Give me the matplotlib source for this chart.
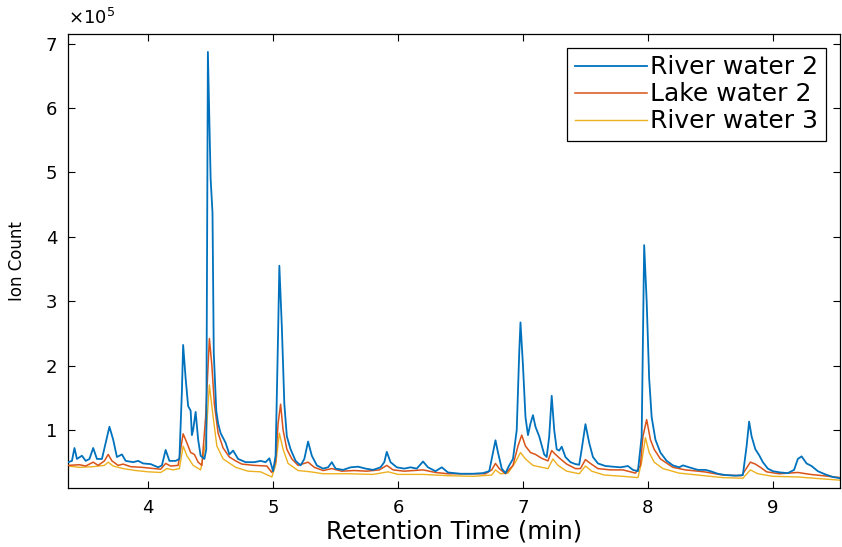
import matplotlib
matplotlib.use("Agg")
import matplotlib.pyplot as plt
import numpy as np

# retention time (min) and ion count (x 1e5)
t_river2 = [3.36, 3.39, 3.41, 3.43, 3.47, 3.50, 3.53, 3.56, 3.59, 3.63, 3.66, 3.69, 3.72, 3.75,
            3.79, 3.82, 3.88, 3.92, 3.96, 4.02, 4.08, 4.11, 4.14, 4.17, 4.22, 4.25, 4.27, 4.28,
            4.30, 4.32, 4.34, 4.35, 4.36, 4.38, 4.40, 4.42, 4.45, 4.465, 4.478, 4.50, 4.515,
            4.525, 4.545, 4.56, 4.58, 4.62, 4.65, 4.68, 4.72, 4.78, 4.85, 4.90, 4.94, 4.97,
            5.00, 5.02, 5.04, 5.05, 5.07, 5.09, 5.11, 5.14, 5.18, 5.22, 5.25, 5.28, 5.31, 5.35,
            5.40, 5.44, 5.47, 5.50, 5.56, 5.62, 5.68, 5.74, 5.80, 5.86, 5.89, 5.91, 5.94, 5.99,
            6.05, 6.10, 6.15, 6.20, 6.24, 6.30, 6.35, 6.40, 6.50, 6.60, 6.68, 6.73, 6.76, 6.78,
            6.80, 6.83, 6.86, 6.89, 6.92, 6.95, 6.97, 6.98, 7.00, 7.02, 7.04, 7.06, 7.08, 7.10,
            7.13, 7.17, 7.19, 7.21, 7.23, 7.25, 7.27, 7.29, 7.31, 7.34, 7.38, 7.42, 7.45, 7.47,
            7.50, 7.53, 7.56, 7.60, 7.66, 7.72, 7.78, 7.84, 7.88, 7.92, 7.95, 7.97, 7.99, 8.01,
            8.03, 8.06, 8.10, 8.15, 8.20, 8.25, 8.28, 8.33, 8.40, 8.46, 8.50, 8.56, 8.62, 8.70,
            8.76, 8.79, 8.81, 8.83, 8.86, 8.89, 8.92, 8.96, 9.00, 9.06, 9.12, 9.17, 9.20, 9.23,
            9.27, 9.31, 9.36, 9.42, 9.48, 9.54]
river2 = [0.50, 0.52, 0.72, 0.55, 0.60, 0.52, 0.55, 0.72, 0.55, 0.55, 0.80, 1.05, 0.85, 0.58,
          0.62, 0.52, 0.50, 0.52, 0.48, 0.47, 0.42, 0.45, 0.69, 0.52, 0.52, 0.55, 1.60, 2.32,
          1.80, 1.37, 1.30, 0.92, 1.00, 1.28, 0.85, 0.60, 0.55, 0.70, 6.87, 4.90, 4.37,
          2.20, 1.30, 1.10, 0.95, 0.80, 0.62, 0.68, 0.55, 0.50, 0.50, 0.52, 0.50, 0.56,
          0.36, 0.60, 2.50, 3.55, 2.60, 1.40, 0.90, 0.70, 0.52, 0.45, 0.55, 0.82, 0.60, 0.45,
          0.40, 0.42, 0.50, 0.40, 0.38, 0.42, 0.43, 0.40, 0.38, 0.42, 0.50, 0.66, 0.50, 0.42,
          0.40, 0.42, 0.40, 0.51, 0.42, 0.36, 0.42, 0.34, 0.32, 0.32, 0.33, 0.36, 0.65, 0.84,
          0.65, 0.40, 0.33, 0.45, 0.55, 1.00, 2.20, 2.67, 2.00, 1.20, 0.92, 1.10, 1.23, 1.05,
          0.90, 0.62, 0.58, 0.90, 1.53, 1.00, 0.70, 0.68, 0.74, 0.58, 0.50, 0.47, 0.46, 0.70,
          1.09, 0.80, 0.58, 0.48, 0.44, 0.43, 0.42, 0.44, 0.38, 0.36, 0.90, 3.87, 3.00, 1.80,
          1.20, 0.85, 0.65, 0.52, 0.45, 0.42, 0.45, 0.42, 0.38, 0.38, 0.36, 0.32, 0.30, 0.29,
          0.30, 0.75, 1.13, 0.90, 0.70, 0.61, 0.50, 0.40, 0.36, 0.34, 0.33, 0.38, 0.55, 0.59,
          0.48, 0.44, 0.36, 0.31, 0.27, 0.25]

t_lake2 = [3.36, 3.45, 3.50, 3.56, 3.60, 3.65, 3.68, 3.71, 3.76, 3.80, 3.86, 3.95, 4.05, 4.10,
           4.14, 4.18, 4.24, 4.26, 4.28, 4.31, 4.34, 4.37, 4.40, 4.43, 4.46, 4.49, 4.51, 4.53,
           4.56, 4.60, 4.65, 4.70, 4.75, 4.85, 4.95, 4.99, 5.02, 5.04, 5.06, 5.08, 5.11, 5.15,
           5.20, 5.28, 5.33, 5.40, 5.47, 5.55, 5.65, 5.75, 5.85, 5.91, 5.96, 6.05, 6.20, 6.30,
           6.40, 6.55, 6.70, 6.75, 6.78, 6.81, 6.86, 6.92, 6.96, 6.99, 7.02, 7.06, 7.10, 7.15,
           7.20, 7.23, 7.26, 7.30, 7.35, 7.42, 7.46, 7.50, 7.54, 7.60, 7.70, 7.80, 7.90, 7.94,
           7.96, 7.99, 8.02, 8.05, 8.10, 8.20, 8.30, 8.45, 8.60, 8.75, 8.78, 8.82, 8.86, 8.90,
           8.95, 9.05, 9.20, 9.30, 9.40, 9.54]
lake2 = [0.45, 0.46, 0.44, 0.50, 0.45, 0.52, 0.62, 0.52, 0.45, 0.47, 0.43, 0.42, 0.40, 0.39,
         0.48, 0.44, 0.45, 0.70, 0.94, 0.80, 0.65, 0.62, 0.50, 0.45, 1.20, 2.42, 2.00, 1.40,
         0.95, 0.72, 0.58, 0.52, 0.47, 0.45, 0.44, 0.34, 0.50, 1.10, 1.40, 1.00, 0.70, 0.55,
         0.45, 0.50, 0.42, 0.37, 0.40, 0.36, 0.37, 0.36, 0.38, 0.45, 0.38, 0.36, 0.38, 0.34,
         0.32, 0.32, 0.32, 0.38, 0.48, 0.40, 0.32, 0.45, 0.75, 0.92, 0.75, 0.65, 0.62, 0.56,
         0.52, 0.68, 0.62, 0.55, 0.47, 0.40, 0.40, 0.54, 0.48, 0.40, 0.38, 0.38, 0.33, 0.45,
         0.90, 1.16, 0.85, 0.70, 0.55, 0.42, 0.38, 0.35, 0.30, 0.29, 0.38, 0.50, 0.47, 0.42,
         0.35, 0.32, 0.34, 0.31, 0.29, 0.26]

t_river3 = [3.36, 3.45, 3.56, 3.65, 3.68, 3.72, 3.80, 3.90, 4.00, 4.10, 4.15, 4.20, 4.25, 4.28,
            4.31, 4.36, 4.42, 4.46, 4.49, 4.52, 4.55, 4.60, 4.70, 4.80, 4.90, 4.99, 5.02, 5.05,
            5.08, 5.12, 5.20, 5.30, 5.40, 5.60, 5.80, 5.92, 6.00, 6.20, 6.40, 6.60, 6.75, 6.78,
            6.82, 6.88, 6.94, 6.98, 7.02, 7.08, 7.15, 7.20, 7.24, 7.28, 7.35, 7.45, 7.50, 7.55,
            7.65, 7.80, 7.92, 7.95, 7.98, 8.01, 8.05, 8.12, 8.25, 8.40, 8.60, 8.76, 8.82, 8.88,
            9.00, 9.20, 9.40, 9.54]
river3 = [0.44, 0.42, 0.43, 0.45, 0.50, 0.44, 0.40, 0.37, 0.35, 0.34, 0.40, 0.38, 0.40, 0.75,
          0.60, 0.45, 0.38, 0.80, 1.70, 1.20, 0.75, 0.55, 0.42, 0.36, 0.35, 0.27, 0.45, 0.95,
          0.70, 0.48, 0.37, 0.35, 0.32, 0.32, 0.31, 0.35, 0.31, 0.31, 0.29, 0.28, 0.30, 0.38,
          0.32, 0.33, 0.50, 0.65, 0.55, 0.45, 0.42, 0.40, 0.55, 0.45, 0.36, 0.32, 0.44, 0.36,
          0.30, 0.28, 0.26, 0.50, 0.88, 0.65, 0.50, 0.40, 0.33, 0.30, 0.26, 0.25, 0.38, 0.32,
          0.28, 0.27, 0.24, 0.22]

labels = ["River water 2", "Lake water 2", "River water 3"]
colors = ["#0072BD", "#D95319", "#EDB120"]

fig = plt.figure(figsize=(8.42, 5.47), dpi=100)
ax = fig.add_axes([0.081, 0.108, 0.917, 0.830])

# draw back to front so the blue trace sits on top
ax.plot(t_river3, river3, color=colors[2], lw=1.0, label=labels[2], zorder=2)
ax.plot(t_lake2, lake2, color=colors[1], lw=1.1, label=labels[1], zorder=3)
ax.plot(t_river2, river2, color=colors[0], lw=1.3, label=labels[0], zorder=4)

ax.set_xlim(3.36, 9.54)
ax.set_ylim(0.1, 7.15)
ax.set_xticks([4, 5, 6, 7, 8, 9])
ax.set_yticks([1, 2, 3, 4, 5, 6, 7])
ax.tick_params(direction="in", top=True, right=True, length=5, width=0.8, labelsize=13, pad=8)
for s in ax.spines.values():
    s.set_linewidth(0.9)

ax.set_xlabel("Retention Time (min)", fontsize=17.5, labelpad=2)
ax.set_ylabel("Ion Count", fontsize=12, labelpad=14)
ax.text(0.0, 1.012, r"$\times10^5$", transform=ax.transAxes, fontsize=13, va="bottom", ha="left")

handles, labs = ax.get_legend_handles_labels()
order = [2, 1, 0]
leg = ax.legend([handles[i] for i in order], [labs[i] for i in order], loc="upper right",
                bbox_to_anchor=(0.981, 0.969), fontsize=18, handlelength=2.9, handletextpad=0.12,
                labelspacing=0.12, borderpad=0.3, fancybox=False, framealpha=1, borderaxespad=0)
leg.get_frame().set_edgecolor("black")
leg.get_frame().set_linewidth(0.9)

fig.savefig("out.png", dpi=100)
